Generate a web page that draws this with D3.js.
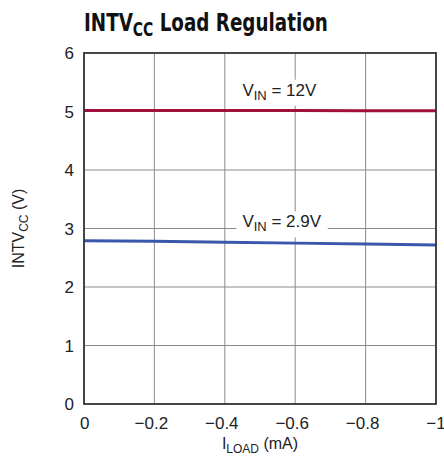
<!DOCTYPE html>
<html>
<head>
<meta charset="utf-8">
<script src="https://cdn.jsdelivr.net/npm/d3@7"></script>
<style>
  html, body { margin: 0; padding: 0; background: #fff; }
  svg { display: block; }
</style>
</head>
<body>
<svg id="chart" width="444" height="465"></svg>
<script>
// load current, mA
const iLoad = [0, -0.2, -0.4, -0.6, -0.8, -1]
// INTVcc (V)
const vin12 = [5.015, 5.015, 5.015, 5.015, 5.014, 5.013]
const vin29 = [2.79, 2.78, 2.765, 2.75, 2.735, 2.72]
const xTicks = [0, -0.2, -0.4, -0.6, -0.8, -1]
const xTickLabels = ["0", "\u22120.2", "\u22120.4", "\u22120.6", "\u22120.8", "\u22121"]
const yTicks = [0, 1, 2, 3, 4, 5, 6]

const svg = d3.select("#chart")
const plotL = 84, plotR = 436, plotT = 53, plotB = 404

const x = d3.scaleLinear().domain([0, -1]).range([plotL, plotR])
const y = d3.scaleLinear().domain([0, 6]).range([plotB, plotT])

const font = "'Liberation Sans', Arial, Helvetica, sans-serif"

// grid
svg.append("g")
    .selectAll("line")
    .data(xTicks.slice(1, -1))
    .join("line")
    .attr("x1", d => x(d)).attr("x2", d => x(d))
    .attr("y1", plotT).attr("y2", plotB)
    .attr("stroke", "#8c8c8c").attr("stroke-width", 1)

svg.append("g")
    .selectAll("line")
    .data(yTicks.slice(1, -1))
    .join("line")
    .attr("x1", plotL).attr("x2", plotR)
    .attr("y1", d => y(d)).attr("y2", d => y(d))
    .attr("stroke", "#8c8c8c").attr("stroke-width", 1)

// curve labels with white backing
const labels = [
    { v: "12V", x: -0.45, y: 5.27 },
    { v: "2.9V", x: -0.45, y: 3.02 }
]
labels.forEach(l => {
    const t = svg.append("text")
        .attr("x", x(l.x)).attr("y", y(l.y))
        .attr("font-family", font).attr("font-size", 17)
        .attr("fill", "#222")
    t.append("tspan").text("V")
    t.append("tspan").attr("font-size", 13).attr("dy", 4).text("IN")
    t.append("tspan").attr("dy", -4).text(" = " + l.v)
    const bb = t.node().getBBox()
    svg.insert("rect", "text")
        .attr("x", bb.x - 6).attr("y", bb.y - 1)
        .attr("width", bb.width + 12).attr("height", bb.height + 4)
        .attr("fill", "#fff")
})

// curves
const line = d3.line().x(d => x(d[0])).y(d => y(d[1]))
svg.append("path")
    .datum(d3.zip(iLoad, vin12))
    .attr("d", line)
    .attr("fill", "none").attr("stroke", "#a0103a").attr("stroke-width", 3)
svg.append("path")
    .datum(d3.zip(iLoad, vin29))
    .attr("d", line)
    .attr("fill", "none").attr("stroke", "#3a58ab").attr("stroke-width", 3)

// frame
svg.append("rect")
    .attr("x", plotL).attr("y", plotT)
    .attr("width", plotR - plotL).attr("height", plotB - plotT)
    .attr("fill", "none").attr("stroke", "#333").attr("stroke-width", 1.8)

// tick labels
svg.append("g")
    .selectAll("text")
    .data(yTicks)
    .join("text")
    .attr("x", plotL - 10).attr("y", d => y(d) + 6)
    .attr("text-anchor", "end")
    .attr("font-family", font).attr("font-size", 17).attr("fill", "#222")
    .text(d => d)

svg.append("g")
    .selectAll("text")
    .data(xTicks)
    .join("text")
    .attr("x", d => x(d)).attr("y", plotB + 25)
    .attr("text-anchor", (d, i) => i == 0 ? "start" : "middle")
    .attr("dx", (d, i) => i == 0 ? -4 : (i == xTicks.length - 1 ? 0 : -3))
    .attr("font-family", font).attr("font-size", 17).attr("fill", "#222")
    .text((d, i) => xTickLabels[i])

// axis titles
const xt = svg.append("text")
    .attr("x", x(-0.5)).attr("y", 449)
    .attr("text-anchor", "middle")
    .attr("font-family", font).attr("font-size", 16).attr("fill", "#222")
xt.append("tspan").text("I")
xt.append("tspan").attr("font-size", 12).attr("dy", 4).text("LOAD")
xt.append("tspan").attr("dy", -4).text(" (mA)")

const yt = svg.append("text")
    .attr("transform", `translate(24,${y(3)}) rotate(-90)`)
    .attr("text-anchor", "middle")
    .attr("font-family", font).attr("font-size", 16).attr("fill", "#222")
yt.append("tspan").text("INTV")
yt.append("tspan").attr("font-size", 12).attr("dy", 4).text("CC")
yt.append("tspan").attr("dy", -4).text(" (V)")

// title
const title = svg.append("text")
    .attr("x", plotL).attr("y", 31)
    .attr("font-family", "'Liberation Sans Narrow', 'DejaVu Sans Condensed', sans-serif")
    .attr("font-weight", "bold").attr("font-size", 25).attr("fill", "#111")
title.append("tspan").text("INTV")
title.append("tspan").attr("font-size", 19).attr("dy", 5).text("CC")
title.append("tspan").attr("dy", -5).text(" Load Regulation")
const tw = title.node().getBBox().width
if (Math.abs(tw - 244) > 4) {
    title.attr("transform", `translate(${plotL},0) scale(${244 / tw},1) translate(${-plotL},0)`)
}
</script>
</body>
</html>
